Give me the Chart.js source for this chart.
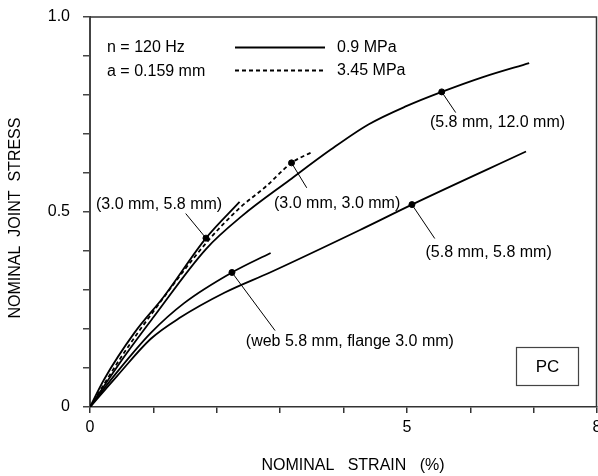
<!DOCTYPE html>
<html>
<head>
<meta charset="utf-8">
<script src="https://cdn.jsdelivr.net/npm/chart.js@4.4.1/dist/chart.umd.min.js"></script>
<style>
  body { margin: 0; background: #fff; }
</style>
</head>
<body>
<canvas id="myChart" width="598" height="476"></canvas>
<script>
// curve (3.0 mm, 5.8 mm), 0.9 MPa
var strainA = [0, 0.22, 0.70, 1.17, 1.83, 2.36];
var stressA = [0, 0.07, 0.19, 0.284, 0.433, 0.526];

// curve (3.0 mm, 3.0 mm), 3.45 MPa (dashed)
var strainB = [0, 0.5, 1.0, 1.83, 2.36, 2.78, 3.18, 3.52];
var stressB = [0, 0.13, 0.245, 0.42, 0.51, 0.566, 0.626, 0.655];

// curve (5.8 mm, 12.0 mm), 0.9 MPa
var strainC = [0, 0.5, 1.0, 1.83, 2.4, 3.15, 3.8, 4.4, 5.0, 5.55, 6.2, 6.93];
var stressC = [0, 0.12, 0.23, 0.405, 0.49, 0.582, 0.66, 0.725, 0.772, 0.808, 0.846, 0.882];

// curve (5.8 mm, 5.8 mm), 0.9 MPa
var strainD = [0, 0.43, 0.96, 1.41, 2.12, 2.84, 4.26, 5.08, 6.88];
var stressD = [0, 0.08, 0.175, 0.228, 0.293, 0.345, 0.454, 0.519, 0.655];

// curve (web 5.8 mm, flange 3.0 mm), 0.9 MPa
var strainE = [0, 0.43, 0.96, 1.49, 2.24, 2.85];
var stressE = [0, 0.09, 0.19, 0.267, 0.345, 0.395];

// marked points on the curves
var markStrain = [1.83, 3.18, 5.55, 5.08, 2.24];
var markStress = [0.433, 0.626, 0.808, 0.519, 0.345];
var markLabels = ["(3.0 mm, 5.8 mm)", "(3.0 mm, 3.0 mm)", "(5.8 mm, 12.0 mm)",
                  "(5.8 mm, 5.8 mm)", "(web 5.8 mm, flange 3.0 mm)"];

var xTickLabels = {0: "0", 5: "5", 8: "8"};
var yTickLabels = {0: "0", 5: "0.5", 10: "1.0"};

function pts(xs, ys) {
  return xs.map(function (x, i) { return {x: x, y: ys[i]}; });
}

var font = "'Liberation Sans', Arial, sans-serif";

function curve(xs, ys, dashed) {
  return {
    data: pts(xs, ys),
    showLine: true,
    borderColor: "#000",
    borderWidth: 1.8,
    borderDash: dashed ? [4, 3] : [],
    pointRadius: 0,
    cubicInterpolationMode: "monotone"
  };
}

// annotation placement (label centre and pointer end, in data units)
var labelPos = [
  {tx: 1.09, ty: 0.518, lx: 1.51, ly: 0.496},
  {tx: 3.90, ty: 0.521, lx: 3.42, ly: 0.562},
  {tx: 6.43, ty: 0.729, lx: 5.77, ly: 0.755},
  {tx: 6.29, ty: 0.396, lx: 5.44, ly: 0.432},
  {tx: 4.10, ty: 0.168, lx: 2.92, ly: 0.196}
];

var extras = {
  id: "extras",
  afterDatasetsDraw: function (chart) {
    var ctx = chart.ctx, a = chart.chartArea;
    var xs = chart.scales.x, ys = chart.scales.y;
    ctx.save();
    // frame top and right
    ctx.strokeStyle = "#333";
    ctx.lineWidth = 1.5;
    ctx.beginPath();
    ctx.moveTo(a.left, a.top);
    ctx.lineTo(a.right - 0.5, a.top);
    ctx.lineTo(a.right - 0.5, a.bottom);
    ctx.stroke();

    ctx.font = "16px " + font;
    ctx.fillStyle = "#000";
    ctx.textBaseline = "middle";

    // axis titles
    ctx.textAlign = "center";
    ctx.fillText("NOMINAL   STRAIN   (%)", 353, 466);
    ctx.save();
    ctx.translate(15.5, 218);
    ctx.rotate(-Math.PI / 2);
    ctx.fillText("NOMINAL  JOINT  STRESS", 0, 0);
    ctx.restore();

    // legend
    ctx.textAlign = "left";
    ctx.fillText("n = 120 Hz", a.left + 17, 48);
    ctx.fillText("a = 0.159 mm", a.left + 17, 72);
    ctx.strokeStyle = "#000";
    ctx.lineWidth = 1.8;
    ctx.beginPath();
    ctx.moveTo(235, 47.5); ctx.lineTo(325, 47.5);
    ctx.stroke();
    ctx.setLineDash([4, 3]);
    ctx.beginPath();
    ctx.moveTo(235, 70.5); ctx.lineTo(325, 70.5);
    ctx.stroke();
    ctx.setLineDash([]);
    ctx.fillText("0.9 MPa", 337, 48);
    ctx.fillText("3.45 MPa", 337, 71);

    // pointers and labels
    ctx.lineWidth = 1;
    ctx.textAlign = "center";
    markLabels.forEach(function (txt, i) {
      var p = labelPos[i];
      ctx.beginPath();
      ctx.moveTo(xs.getPixelForValue(markStrain[i]), ys.getPixelForValue(markStress[i]));
      ctx.lineTo(xs.getPixelForValue(p.lx), ys.getPixelForValue(p.ly));
      ctx.stroke();
      ctx.fillText(txt, xs.getPixelForValue(p.tx), ys.getPixelForValue(p.ty));
    });

    // PC box
    ctx.strokeStyle = "#444";
    ctx.lineWidth = 1.2;
    ctx.strokeRect(516.5, 347.5, 62, 38);
    ctx.font = "17px " + font;
    ctx.fillText("PC", 547.5, 367.5);
    ctx.restore();
  }
};

new Chart("myChart", {
  type: "scatter",
  data: {
    datasets: [
      curve(strainA, stressA, false),
      curve(strainB, stressB, true),
      curve(strainC, stressC, false),
      curve(strainD, stressD, false),
      curve(strainE, stressE, false),
      {
        data: pts(markStrain, markStress),
        pointRadius: 3,
        pointBackgroundColor: "#000",
        pointBorderColor: "#000",
        showLine: false
      }
    ]
  },
  options: {
    responsive: false,
    animation: false,
    layout: {autoPadding: false, padding: {top: 17, right: 1, left: 0, bottom: 0}},
    plugins: {legend: {display: false}, tooltip: {enabled: false}},
    scales: {
      x: {
        type: "linear",
        min: 0, max: 8,
        afterFit: function (s) { s.height = 69; s.paddingLeft = 0; s.paddingRight = 0; },
        border: {color: "#333", width: 1.5},
        grid: {drawOnChartArea: false, tickLength: 6, color: "#333", lineWidth: 1.5},
        ticks: {
          stepSize: 1, padding: 5, color: "#000",
          font: {family: font, size: 16},
          maxRotation: 0, autoSkip: false,
          callback: function (v) { return xTickLabels[Math.round(v)] !== undefined && Math.abs(v - Math.round(v)) < 1e-6 ? xTickLabels[Math.round(v)] : ""; }
        }
      },
      y: {
        type: "linear",
        min: 0, max: 1,
        afterFit: function (s) { s.width = 90; s.paddingTop = 0; s.paddingBottom = 0; },
        border: {color: "#444", width: 2},
        grid: {drawOnChartArea: false, tickLength: 7, color: "#444", lineWidth: 1.5},
        ticks: {
          stepSize: 0.1, padding: 13, color: "#000",
          font: {family: font, size: 16},
          callback: function (v) { var k = Math.round(v * 10); return yTickLabels[k] || ""; }
        }
      }
    }
  },
  plugins: [extras]
});
</script>
</body>
</html>
